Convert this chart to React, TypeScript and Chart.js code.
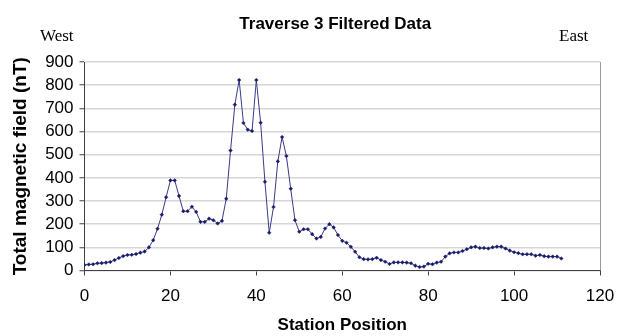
import React, { useEffect, useRef } from "react";
import { Chart, registerables } from "chart.js";

Chart.register(...registerables);

// Total magnetic field (nT) along traverse 3, one reading per station (stations 0–111)
const FIELD_NT: number[] = [
  24, 26, 27, 31, 32, 34, 37, 45, 54, 62,
  67, 68, 71, 77, 82, 100, 131, 180, 241, 316,
  389, 389, 322, 256, 256, 275, 253, 210, 210, 224,
  217, 203, 214, 310, 518, 716, 822, 637, 608, 602,
  822, 638, 383, 163, 274, 471, 576, 494, 353, 217,
  167, 178, 178, 157, 138, 145, 181, 200, 186, 153,
  128, 120, 102, 81, 57, 49, 48, 49, 55, 45,
  38, 28, 35, 35, 35, 34, 31, 21, 15, 17,
  29, 27, 34, 38, 60, 74, 78, 78, 84, 92,
  100, 103, 97, 97, 95, 100, 103, 103, 95, 86,
  79, 75, 70, 70, 70, 64, 67, 62, 60, 60,
  60, 52,
];

// Station position of each reading (readings are taken one station apart from station 0)
const STATIONS: number[] = FIELD_NT.map((_, i) => i);

const TITLE = "Traverse 3 Filtered Data";
const X_TITLE = "Station Position";
const Y_TITLE = "Total magnetic field (nT)";
const WEST_LABEL = "West";
const EAST_LABEL = "East";

const X_MIN = 0;
const X_MAX = 120;
const X_STEP = 20;
const Y_MIN = 0;
const Y_MAX = 900;
const Y_STEP = 100;

const W = 626;
const H = 336;

// Chart title, direction labels and the right-hand frame of the plot area
const decorations = {
  id: "decorations",
  afterDraw(chart: Chart) {
    const { ctx, chartArea } = chart;
    ctx.save();
    ctx.strokeStyle = "#9a9a9a";
    ctx.lineWidth = 1;
    ctx.beginPath();
    ctx.moveTo(Math.round(chartArea.right) + 0.5, chartArea.top);
    ctx.lineTo(Math.round(chartArea.right) + 0.5, chartArea.bottom);
    ctx.stroke();

    ctx.fillStyle = "#000";
    ctx.textBaseline = "alphabetic";
    ctx.textAlign = "center";
    ctx.font = "bold 17px 'Liberation Sans', Arial, sans-serif";
    ctx.fillText(TITLE, (chartArea.left + chartArea.right) / 2 - 7, 29);

    ctx.font = "17px 'Liberation Serif', 'Times New Roman', serif";
    ctx.textAlign = "left";
    ctx.fillText(WEST_LABEL, 40, 41);
    ctx.fillText(EAST_LABEL, 559, 41);
    ctx.restore();
  },
};

export default function App() {
  const canvasRef = useRef<HTMLCanvasElement | null>(null);

  useEffect(() => {
    document.body.style.margin = "0";
    const canvas = canvasRef.current;
    if (!canvas) return;

    const axisColor = "#404040";
    const tickFont = { family: "'Liberation Sans', Arial, sans-serif", size: 17 };

    const chart = new Chart(canvas, {
      type: "line",
      data: {
        datasets: [
          {
            data: STATIONS.map((x, i) => ({ x, y: FIELD_NT[i] })),
            borderColor: "#3a3a88",
            borderWidth: 1,
            backgroundColor: "#1a1a6a",
            pointBackgroundColor: "#1a1a6a",
            pointBorderColor: "#1a1a6a",
            pointStyle: "rectRot",
            pointRadius: 1.8,
            pointBorderWidth: 0.5,
            tension: 0,
            fill: false,
          },
        ],
      },
      options: {
        responsive: false,
        animation: false,
        layout: { padding: { left: 0, right: 26, top: 62, bottom: 0 } },
        plugins: {
          legend: { display: false },
          title: { display: false },
          tooltip: { enabled: false },
        },
        scales: {
          x: {
            type: "linear",
            min: X_MIN,
            max: X_MAX,
            ticks: {
              stepSize: X_STEP,
              autoSkip: false,
              color: "#000",
              font: tickFont,
              padding: 11,
              maxRotation: 0,
            },
            grid: {
              drawOnChartArea: false,
              drawTicks: true,
              tickLength: 5,
              tickColor: axisColor,
              tickWidth: 1,
            },
            border: { color: axisColor, width: 1 },
            title: {
              display: true,
              text: X_TITLE,
              color: "#000",
              font: { family: "'Liberation Sans', Arial, sans-serif", size: 17, weight: "bold" },
              padding: { top: 1, bottom: 0 },
            },
            afterFit: (s: any) => {
              s.height = 65.5;
            },
          },
          y: {
            type: "linear",
            min: Y_MIN,
            max: Y_MAX,
            ticks: {
              stepSize: Y_STEP,
              autoSkip: false,
              color: "#000",
              font: tickFont,
              padding: 6,
            },
            grid: {
              color: "#d6d6d6",
              lineWidth: 1.5,
              drawTicks: true,
              tickLength: 5,
              tickColor: axisColor,
              tickWidth: 1,
            },
            border: { color: axisColor, width: 1 },
            title: {
              display: true,
              text: Y_TITLE,
              color: "#000",
              font: { family: "'Liberation Sans', Arial, sans-serif", size: 19, weight: "bold" },
              padding: { top: 9, bottom: 0 },
            },
            afterFit: (s: any) => {
              s.width = 84.5;
            },
          },
        },
      },
      plugins: [decorations],
    });

    return () => chart.destroy();
  }, []);

  return (
    <div style={{ position: "relative", width: W, height: H, background: "#fff" }}>
      <canvas ref={canvasRef} width={W} height={H} />
    </div>
  );
}
